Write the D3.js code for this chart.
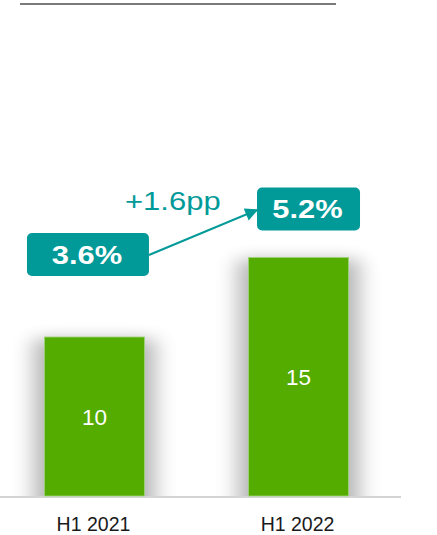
<!DOCTYPE html>
<html>
<head>
<meta charset="utf-8">
<script src="https://cdn.jsdelivr.net/npm/d3@7"></script>
<style>
  html, body { margin: 0; padding: 0; background: #fff; }
  svg { display: block; }
  text { font-family: "Liberation Sans", Arial, Helvetica, sans-serif; }
</style>
</head>
<body>
<svg id="chart" width="437" height="535"></svg>
<script>
// ---- data ----
const categories = ["H1 2021", "H1 2022"];
const values = [10, 15];
const valueLabels = ["10", "15"];
const shareLabels = ["3.6%", "5.2%"];
const changeLabel = "+1.6pp";

// ---- layout ----
const W = 437, H = 535;
const baseY = 496;
const svg = d3.select("#chart");

const x = d3.scaleBand().domain(categories).range([0, 393])
  .paddingInner(0.51).paddingOuter(0.218);
const y = d3.scaleLinear().domain([0, 15]).range([baseY, 257.5]);

const defs = svg.append("defs");
const f = defs.append("filter").attr("id", "blur")
  .attr("x", "-80%").attr("y", "-40%").attr("width", "260%").attr("height", "180%");
f.append("feGaussianBlur").attr("stdDeviation", "11 8");
defs.append("clipPath").attr("id", "aboveBase")
  .append("rect").attr("x", 0).attr("y", 0).attr("width", W).attr("height", baseY);

// top rule
svg.append("line").attr("x1", 20).attr("x2", 336).attr("y1", 4).attr("y2", 4)
  .attr("stroke", "#7a7a7a").attr("stroke-width", 2);

// shadows
svg.append("g").attr("clip-path", "url(#aboveBase)")
  .selectAll("rect").data(values).join("rect")
  .attr("x", (d, i) => x(categories[i]) - 10)
  .attr("y", d => y(d) + 2)
  .attr("width", x.bandwidth() + 20)
  .attr("height", d => baseY - y(d) + 20)
  .attr("fill", "#000").attr("opacity", 0.3)
  .attr("filter", "url(#blur)");

// baseline
svg.append("line").attr("x1", 0).attr("x2", 401).attr("y1", baseY + 1).attr("y2", baseY + 1)
  .attr("stroke", "#d4d4d4").attr("stroke-width", 2);

// bars
svg.append("g").selectAll("rect").data(values).join("rect")
  .attr("x", (d, i) => x(categories[i]))
  .attr("y", d => y(d))
  .attr("width", x.bandwidth())
  .attr("height", d => baseY - y(d))
  .attr("fill", "#55ac00")
  .attr("stroke", "#9fd47a").attr("stroke-width", 0.8);

// value labels
svg.append("g").selectAll("text").data(values).join("text")
  .attr("x", (d, i) => x(categories[i]) + x.bandwidth() / 2)
  .attr("y", d => (y(d) + baseY) / 2 + 8)
  .attr("text-anchor", "middle")
  .attr("fill", "#fff").attr("font-size", 22.5)
  .text((d, i) => valueLabels[i]);

// category labels
svg.append("g").selectAll("text").data(categories).join("text")
  .attr("x", d => x(d) + x.bandwidth() / 2 - 1)
  .attr("y", 531)
  .attr("text-anchor", "middle")
  .attr("fill", "#1a1a1a").attr("font-size", 19.5)
  .text(d => d);

// share callouts
const teal = "#029a98";
const boxW = [122, 103], boxH = 43;
const boxDx = [-6.5, 10];      // offset of box centre from bar centre
const boxGap = [61, 27];        // gap between box bottom and bar top
const boxes = values.map((v, i) => {
  const cx = x(categories[i]) + x.bandwidth() / 2 + boxDx[i];
  const bottom = y(v) - boxGap[i];
  return { cx, x0: cx - boxW[i] / 2, x1: cx + boxW[i] / 2, y0: bottom - boxH, y1: bottom, label: shareLabels[i], w: boxW[i] };
});

defs.append("marker").attr("id", "arrow")
  .attr("viewBox", "0 0 10 10").attr("refX", 9).attr("refY", 5)
  .attr("markerWidth", 7).attr("markerHeight", 6.5).attr("orient", "auto")
  .attr("markerUnits", "strokeWidth")
  .append("path").attr("d", "M0,0 L10,5 L0,10 Z").attr("fill", teal);

svg.append("line")
  .attr("x1", boxes[0].x1).attr("y1", (boxes[0].y0 + boxes[0].y1) / 2 + 0.5)
  .attr("x2", boxes[1].x0).attr("y2", (boxes[1].y0 + boxes[1].y1) / 2 + 1)
  .attr("stroke", teal).attr("stroke-width", 2)
  .attr("marker-end", "url(#arrow)");

const bg = svg.append("g").selectAll("g").data(boxes).join("g");
bg.append("rect")
  .attr("x", d => d.x0).attr("y", d => d.y0)
  .attr("width", d => d.w).attr("height", boxH)
  .attr("rx", 5).attr("fill", teal);
bg.append("text")
  .attr("transform", d => `translate(${d.cx - 1},${(d.y0 + d.y1) / 2 + 9.3}) scale(1.21,1)`)
  .attr("text-anchor", "middle")
  .attr("fill", "#fff").attr("font-size", 25.5).attr("font-weight", "bold")
  .text(d => d.label);

svg.append("text")
  .attr("transform", "translate(125,210) scale(1.24,1)")
  .attr("fill", teal).attr("font-size", 25)
  .text(changeLabel);
</script>
</body>
</html>
